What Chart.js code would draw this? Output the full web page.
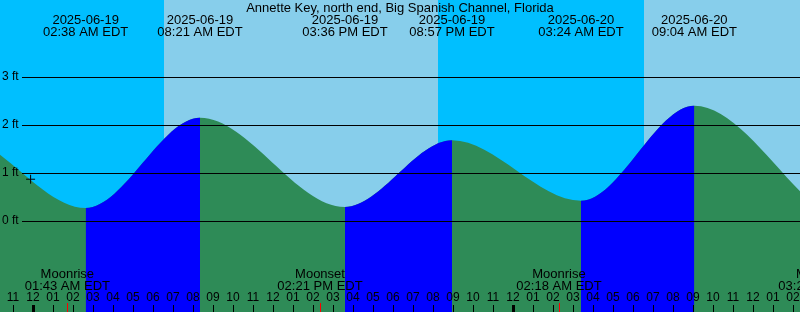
<!DOCTYPE html>
<html>
<head>
<meta charset="utf-8">
<script src="https://cdn.jsdelivr.net/npm/chart.js@4.4.1/dist/chart.umd.min.js"></script>
<style>
  html, body { margin: 0; padding: 0; background: #fff; }
  canvas { display: block; }
</style>
</head>
<body>
<canvas id="tide-chart" width="800" height="312"></canvas>
<script>
// all times are hours after 2025-06-19 00:00 EDT
const titulo = "Annette Key, north end, Big Spanish Channel, Florida";

// highs and lows (first two and last two are outside the window)
const tideHours = [-10.2, -3.9, 2.633, 8.35, 15.6, 20.95, 27.4, 33.067, 41.5, 47.6];
const tideFeet = [0.1, 1.8, 0.27, 2.15, 0.29, 1.68, 0.42, 2.40, -0.2, 1.7];
const tideDates = [null, null, "2025-06-19", "2025-06-19", "2025-06-19", "2025-06-19", "2025-06-20", "2025-06-20", null, null];
const tideTimes = [null, null, "02:38 AM EDT", "08:21 AM EDT", "03:36 PM EDT", "08:57 PM EDT", "03:24 AM EDT", "09:04 AM EDT", null, null];

// sunrise / sunset
const sunHours = [6.55, 20.25, 30.55];
const sunKinds = ["rise", "set", "rise"];

// moon events
const moonHours = [1.717, 14.35, 26.3, 39.4];
const moonNames = ["Moonrise", "Moonset", "Moonrise", "Moonset"];
const moonTimes = ["01:43 AM EDT", "02:21 PM EDT", "02:18 AM EDT", "03:24 PM EDT"];

// depth grid
const depthTicks = [0, 1, 2, 3];
const depthLabels = ["0 ft", "1 ft", "2 ft", "3 ft"];

// "now" marker
const nowHour = [-0.12];
const nowFeet = [0.87];

const xMin = -1.65, xMax = 38.35;
const yMin = -1.896, yMax = 4.604;

const colNight = "#00BFFF";
const colDay = "#87CEEB";
const colRising = "#0000FF";
const colFalling = "#2E8B57";
const fuente = "13px 'Liberation Sans', Arial, sans-serif";
const fuenteHoras = "12px 'Liberation Sans', Arial, sans-serif";

const tidePoints = tideHours.map((h, i) => ({ x: h, y: tideFeet[i] }));
const nowPoints = nowHour.map((h, i) => ({ x: h, y: nowFeet[i] }));

function hourLabel(h) {
  let hh = ((h % 24) + 24) % 24;
  let v = hh % 12;
  if (v === 0) v = 12;
  return String(v).padStart(2, "0");
}

const cielo = {
  id: "cielo",
  beforeDatasetsDraw(chart) {
    const { ctx, chartArea: a, scales: { x } } = chart;
    ctx.save();
    // start state: night before first sunrise
    let prev = a.left;
    let isDay = sunKinds[0] === "set";
    sunHours.forEach((h) => {
      const px = Math.round(x.getPixelForValue(h));
      ctx.fillStyle = isDay ? colDay : colNight;
      ctx.fillRect(prev, a.top, px - prev, a.bottom - a.top);
      prev = px;
      isDay = !isDay;
    });
    ctx.fillStyle = isDay ? colDay : colNight;
    ctx.fillRect(prev, a.top, a.right - prev, a.bottom - a.top);
    ctx.restore();
  }
};

const rotulos = {
  id: "rotulos",
  afterDatasetsDraw(chart) {
    const { ctx, chartArea: a, scales: { x, y } } = chart;
    ctx.save();
    ctx.fillStyle = "#000";

    // depth lines
    ctx.font = fuenteHoras;
    ctx.textAlign = "left";
    ctx.textBaseline = "middle";
    depthTicks.forEach((d, i) => {
      const py = Math.round(y.getPixelForValue(d));
      ctx.fillRect(22, py, a.right - 22, 1);
      ctx.fillText(depthLabels[i], 2, py);
    });

    // title
    ctx.font = fuente;
    ctx.textAlign = "center";
    ctx.fillText(titulo, 400, 8);

    // tide labels
    tideHours.forEach((h, i) => {
      if (!tideDates[i]) return;
      const px = x.getPixelForValue(h);
      ctx.fillText(tideDates[i], px, 20);
      ctx.fillText(tideTimes[i], px, 32);
    });

    // moon labels + red ticks
    moonHours.forEach((h, i) => {
      const px = x.getPixelForValue(h);
      ctx.fillStyle = "#000";
      ctx.fillText(moonNames[i], px, 274);
      ctx.fillText(moonTimes[i], px, 286);
      ctx.fillStyle = "#FF0000";
      ctx.fillRect(Math.round(px), 303, 1, a.bottom - 303);
    });

    // hour ticks
    ctx.fillStyle = "#000";
    ctx.font = fuenteHoras;
    for (let h = Math.ceil(xMin); h <= Math.floor(xMax) + 1; h++) {
      const px = Math.round(x.getPixelForValue(h));
      if (((h % 24) + 24) % 24 === 0) {
        ctx.fillRect(px - 1, 305, 3, a.bottom - 305);
      } else {
        ctx.fillRect(px, 305, 1, a.bottom - 305);
      }
      ctx.fillText(hourLabel(h), px, 298);
    }
    ctx.restore();
  }
};

new Chart(document.getElementById("tide-chart"), {
  type: "line",
  data: {
    datasets: [
      {
        data: nowPoints,
        showLine: false,
        pointStyle: "cross",
        pointRadius: 4.5,
        borderColor: "#000",
        borderWidth: 1
      },
      {
        // rising parts drawn over the green base
        data: tidePoints,
        fill: "start",
        borderWidth: 0,
        pointRadius: 0,
        backgroundColor: "rgba(0,0,0,0)",
        cubicInterpolationMode: "monotone",
        segment: {
          backgroundColor: c => c.p1.parsed.y > c.p0.parsed.y ? colRising : "rgba(0,0,0,0)"
        }
      },
      {
        data: tidePoints,
        fill: "start",
        borderWidth: 0,
        pointRadius: 0,
        backgroundColor: colFalling,
        cubicInterpolationMode: "monotone"
      }
    ]
  },
  options: {
    responsive: false,
    animation: false,
    devicePixelRatio: 1,
    layout: { padding: 0, autoPadding: false },
    plugins: {
      legend: { display: false },
      tooltip: { enabled: false }
    },
    scales: {
      x: { type: "linear", min: xMin, max: xMax, display: false },
      y: { min: yMin, max: yMax, display: false }
    }
  },
  plugins: [cielo, rotulos]
});
</script>
</body>
</html>
